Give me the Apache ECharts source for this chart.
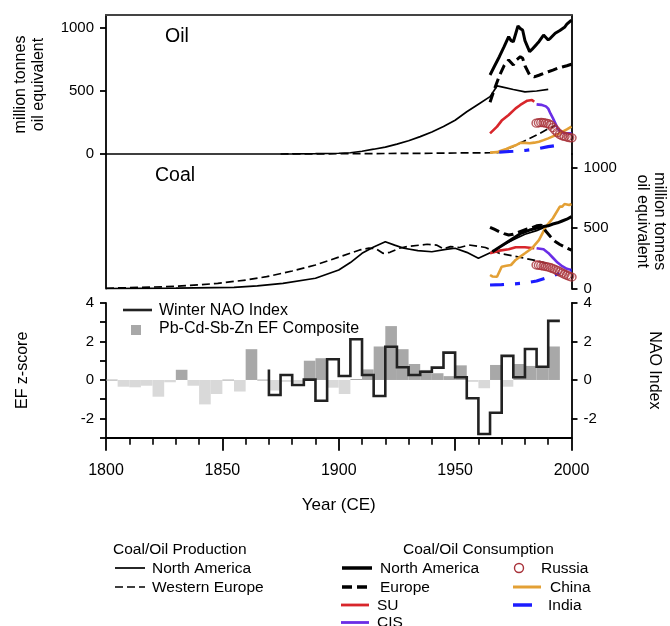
<!DOCTYPE html>
<html>
<head>
<meta charset="utf-8">
<script src="https://cdn.jsdelivr.net/npm/echarts@6/dist/echarts.min.js"></script>
<style>
  html, body { margin: 0; padding: 0; background: #fff; }
  #chart { width: 670px; height: 626px; }
</style>
</head>
<body>
<div id="chart"></div>
<script>
// ---- oil (million tonnes oil equivalent) ----
const naProdOilYears = [1800, 1860, 1880, 1890, 1900, 1905, 1910, 1915, 1920, 1925, 1930, 1935, 1940, 1945, 1950, 1955, 1960, 1965, 1968, 1970, 1975, 1980, 1985, 1990];
const naProdOil      = [0, 0, 1, 3, 6, 10, 22, 38, 55, 78, 105, 138, 175, 218, 268, 335, 395, 455, 540, 533, 512, 493, 500, 513];
const wEurProdOilYears = [1875, 1900, 1920, 1940, 1950, 1960, 1965, 1969, 1975, 1980, 1985, 1990, 1993];
const wEurProdOil      = [0, 2, 4, 6, 8, 9, 10, 12, 60, 105, 150, 200, 225];
const naConsOilYears = [1965, 1967, 1969, 1971, 1973, 1974, 1975, 1977, 1978, 1979, 1980, 1982, 1983, 1985, 1986, 1988, 1990, 1991, 1993, 1995, 1997, 1998, 2000];
const naConsOil      = [627, 700, 772, 850, 931, 900, 891, 1016, 995, 984, 900, 812, 830, 870, 891, 944, 905, 920, 958, 980, 1005, 1030, 1063];
const eurConsOilYears = [1965, 1967, 1969, 1971, 1973, 1975, 1976, 1978, 1979, 1980, 1982, 1984, 1986, 1988, 1990, 1992, 1994, 1996, 1998, 2000];
const eurConsOil      = [410, 520, 620, 700, 746, 706, 740, 772, 760, 700, 627, 612, 625, 640, 653, 665, 680, 690, 700, 712];
const suOilYears = [1965, 1968, 1970, 1973, 1976, 1978, 1981, 1983, 1984];
const suOil      = [164, 217, 265, 310, 362, 389, 423, 429, 415];
const cisOilYears = [1985, 1987, 1989, 1990, 1991, 1992, 1993, 1994, 1995, 1996, 1998, 2000];
const cisOil      = [394, 390, 378, 360, 320, 285, 245, 205, 180, 170, 165, 164];
const chinaOilYears = [1965, 1968, 1970, 1972, 1974, 1976, 1978, 1980, 1982, 1984, 1986, 1988, 1990, 1992, 1994, 1996, 1998, 2000];
const chinaOil      = [11, 15, 28, 40, 55, 69, 88, 88, 85, 90, 98, 110, 124, 140, 155, 175, 195, 217];
const indiaOilYears = [1969, 1975, 1980, 1985, 1990, 1995];
const indiaOil      = [15, 22, 28, 40, 58, 72];
const russiaYears = [1985, 1986, 1987, 1988, 1989, 1990, 1991, 1992, 1993, 1994, 1995, 1996, 1997, 1998, 1999, 2000];
const russiaOil   = [245, 248, 250, 248, 245, 240, 230, 210, 190, 170, 155, 145, 140, 135, 130, 128];

// ---- coal (million tonnes oil equivalent) ----
const naProdCoalYears = [1800, 1830, 1855, 1865, 1876, 1890, 1900, 1905, 1910, 1915, 1920, 1924, 1928, 1934, 1940, 1946, 1950, 1955, 1960, 1966, 1970, 1975, 1980, 1985, 1990];
const naProdCoal      = [0, 3, 10, 22, 43, 85, 154, 215, 292, 345, 388, 360, 334, 315, 305, 325, 334, 300, 251, 305, 355, 405, 450, 480, 520];
const wEurProdCoalYears = [1800, 1826, 1840, 1848, 1860, 1869, 1880, 1890, 1900, 1909, 1913, 1916, 1919, 1922, 1926, 1930, 1935, 1938, 1942, 1945, 1948, 1952, 1956, 1960, 1963, 1969, 1975, 1980, 1985, 1990];
const wEurProdCoal      = [2, 15, 30, 43, 70, 98, 145, 195, 260, 320, 335, 330, 292, 300, 334, 350, 360, 367, 360, 330, 347, 340, 361, 350, 340, 292, 270, 250, 231, 205];
const naConsCoalYears = [1966, 1968, 1970, 1972, 1974, 1976, 1978, 1980, 1982, 1984, 1986, 1988, 1990, 1992, 1994, 1996, 1998, 2000];
const naConsCoal      = [305, 330, 355, 380, 405, 430, 455, 470, 485, 495, 505, 515, 520, 535, 545, 560, 575, 596];
const eurConsCoalYears = [1965, 1967, 1969, 1971, 1973, 1975, 1977, 1979, 1981, 1983, 1985, 1987, 1989, 1991, 1993, 1995, 1997, 2000];
const eurConsCoal      = [508, 490, 471, 455, 444, 450, 465, 480, 495, 505, 520, 525, 475, 430, 390, 365, 345, 318];
const suCoalYears = [1965, 1969, 1973, 1976, 1980, 1984];
const suCoal      = [292, 314, 325, 342, 342, 334];
const cisCoalYears = [1985, 1988, 1990, 1992, 1994, 1996, 1998, 2000];
const cisCoal      = [334, 325, 295, 255, 215, 185, 163, 154];
const chinaCoalYears = [1965, 1966, 1968, 1970, 1972, 1974, 1976, 1978, 1980, 1983, 1986, 1989, 1992, 1995, 1996, 1997, 1999, 2000];
const chinaCoal      = [112, 100, 98, 181, 188, 195, 237, 265, 292, 334, 402, 513, 583, 679, 679, 701, 693, 701];
const indiaCoalYears = [1965, 1970, 1975, 1980, 1985, 1990, 1995, 2000];
const indiaCoal      = [29, 32, 38, 45, 62, 92, 126, 150];
const russiaCoal = [195, 193, 190, 186, 182, 178, 172, 165, 157, 148, 138, 128, 118, 110, 102, 95];

// ---- EF composite (5-year bins) and winter NAO ----
const efBin = 5;
const efStart = [1800, 1805, 1810, 1815, 1820, 1825, 1830, 1835, 1840, 1845, 1850, 1855, 1860, 1865, 1870, 1875, 1880, 1885, 1890, 1895,
                 1900, 1905, 1910, 1915, 1920, 1925, 1930, 1935, 1940, 1945, 1950, 1955, 1960, 1965, 1970, 1975, 1980, 1985, 1990];
const efValues = [0.02, -0.35, -0.38, -0.3, -0.87, -0.12, 0.53, -0.3, -1.27, -0.73, 0.02, -0.6, 1.6, 0.02, -0.55, -0.1, -0.15, 1.0, 1.13, -0.4,
                  -0.73, 0.05, 0.55, 1.74, 2.8, 1.6, 0.83, 0.52, 0.35, 0.2, 0.76, -0.1, -0.43, 0.78, -0.35, 0.83, 0.73, 0.7, 1.74];
const naoStart = [1870, 1875, 1880, 1885, 1890, 1895, 1900, 1905, 1910, 1915, 1920, 1925, 1930, 1935, 1940, 1945, 1950, 1955, 1960, 1965, 1970, 1975, 1980, 1985, 1990];
const naoValues = [-0.78, 0.26, -0.26, 0.02, -1.08, 1.08, 0.21, 2.12, 0.26, -0.83, 1.73, 0.66, 0.26, 0.43, 0.64, 1.42, 0.14, -0.95, -2.81, -1.7, 1.25, 0.14, 1.61, 0.69, 3.07];
const naoLead = 0.55;

const mtTicks = [0, 500, 1000];
const efTicks = [-3, -2, -1, 0, 1, 2, 3, 4];
const efLabels = [-2, 0, 2, 4];

const FONT = '"Liberation Sans", Arial, sans-serif';
const pairs = (xs, ys) => xs.map((x, i) => [x, ys[i]]);
const plain = v => String(v);

const chart = echarts.init(document.getElementById('chart'));

const C = {
    su: '#d8262b', cis: '#6a2ee6', russia: '#a8323a', china: '#e3a035', india: '#1c1cff'
};

function line(xi, yi, xs, ys, color, width, dash, z) {
    return {
        type: 'line', xAxisIndex: xi, yAxisIndex: yi,
        data: pairs(xs, ys), symbol: 'none', clip: false, z: z || 2,
        lineStyle: { color: color, width: width, type: dash || 'solid' },
        emphasis: { disabled: true }, silent: true
    };
}

function rings(xi, yi, xs, ys) {
    return {
        type: 'scatter', xAxisIndex: xi, yAxisIndex: yi,
        data: pairs(xs, ys), symbol: 'circle', symbolSize: [9, 8], clip: false, z: 6,
        itemStyle: { color: 'rgba(0,0,0,0)', borderColor: C.russia, borderWidth: 1.4 },
        silent: true
    };
}

const prodDash = [8, 4];
const consDash = [10, 5];
const indiaDash = [14, 11, 5, 11];

// one set of series per panel: [xAxisIndex, yAxisIndex]
function panel(xi, yi, d) {
    return [
        line(xi, yi, d.naProdY, d.naProd, '#000', 1.7),
        line(xi, yi, d.wEurProdY, d.wEurProd, '#000', 1.7, prodDash),
        line(xi, yi, d.suY, d.su, C.su, 2.6, null, 3),
        line(xi, yi, d.cisY, d.cis, C.cis, 2.6, null, 3),
        line(xi, yi, d.chinaY, d.china, C.china, 2.6, null, 3),
        line(xi, yi, d.indiaY, d.india, C.india, 3.2, indiaDash, 3),
        line(xi, yi, d.naConsY, d.naCons, '#000', 3, null, 4),
        line(xi, yi, d.eurConsY, d.eurCons, '#000', 3, consDash, 4),
        rings(xi, yi, russiaYears, d.russia)
    ];
}

const oilSeries = panel(0, 0, {
    naProdY: naProdOilYears, naProd: naProdOil, wEurProdY: wEurProdOilYears, wEurProd: wEurProdOil,
    naConsY: naConsOilYears, naCons: naConsOil, eurConsY: eurConsOilYears, eurCons: eurConsOil,
    suY: suOilYears, su: suOil, cisY: cisOilYears, cis: cisOil, chinaY: chinaOilYears, china: chinaOil,
    indiaY: indiaOilYears, india: indiaOil, russia: russiaOil
});
const coalSeries = panel(1, 3, {
    naProdY: naProdCoalYears, naProd: naProdCoal, wEurProdY: wEurProdCoalYears, wEurProd: wEurProdCoal,
    naConsY: naConsCoalYears, naCons: naConsCoal, eurConsY: eurConsCoalYears, eurCons: eurConsCoal,
    suY: suCoalYears, su: suCoal, cisY: cisCoalYears, cis: cisCoal, chinaY: chinaCoalYears, china: chinaCoal,
    indiaY: indiaCoalYears, india: indiaCoal, russia: russiaCoal
});

const naoPoints = [[naoStart[0], naoLead]]
    .concat(pairs(naoStart, naoValues))
    .concat([[naoStart[naoStart.length - 1] + efBin, naoValues[naoValues.length - 1]]]);

const efSeries = {
    type: 'custom', xAxisIndex: 2, yAxisIndex: 4, z: 1, silent: true,
    data: pairs(efStart, efValues),
    renderItem: function (params, api) {
        const x0 = api.value(0), v = api.value(1);
        const a = api.coord([x0, v]);
        const b = api.coord([x0 + efBin, 0]);
        const h = Math.max(Math.abs(b[1] - a[1]), 1);
        return {
            type: 'rect',
            shape: { x: a[0], y: Math.min(a[1], b[1]), width: b[0] - a[0], height: h },
            style: { fill: v > 0 ? '#a8a8a8' : '#d9d9d9' }
        };
    }
};

const naoSeries = {
    type: 'line', xAxisIndex: 2, yAxisIndex: 5, step: 'end', symbol: 'none', z: 4, silent: true,
    data: naoPoints,
    lineStyle: { color: '#222', width: 2.6, join: 'miter' }
};

const axisBlack = { color: '#000', width: 1.8 };
const labelStyle = { color: '#000', fontSize: 15, fontFamily: FONT, margin: 12, formatter: plain };
const nameStyle = { color: '#000', fontSize: 16, fontFamily: FONT, lineHeight: 17.5 };
const grids = [
    { left: 106, right: 98.5, top: 15, height: 139 },
    { left: 106, right: 98.5, top: 154, height: 134.5 },
    { left: 106, right: 98.5, top: 303, height: 134.7 }
].map(g => Object.assign(g, { containLabel: false, outerBoundsMode: 'none' }));

function frameY(grid, pos, max) {
    return {
        type: 'value', gridIndex: grid, position: pos, min: 0, max: max,
        axisLine: { show: true, onZero: false, lineStyle: axisBlack },
        axisTick: { show: false }, axisLabel: { show: false }, splitLine: { show: false }
    };
}

const option = {
    backgroundColor: '#fff',
    animation: false,
    textStyle: { fontFamily: FONT },
    grid: grids,
    xAxis: [
        {
            type: 'value', gridIndex: 0, min: 1800, max: 2000, position: 'top',
            axisLine: { show: true, onZero: false, lineStyle: { color: '#444', width: 2 } },
            axisTick: { show: false }, axisLabel: { show: false }, splitLine: { show: false }
        },
        { type: 'value', gridIndex: 1, min: 1800, max: 2000, show: false },
        {
            type: 'value', gridIndex: 2, min: 1800, max: 2000, interval: 50,
            axisLine: { show: true, onZero: false, lineStyle: axisBlack },
            axisTick: { show: true, length: 13, lineStyle: axisBlack },
            minorTick: { show: true, splitNumber: 5, length: 7, lineStyle: { color: '#000', width: 1.6 } },
            axisLabel: { color: '#000', fontSize: 16, fontFamily: FONT, margin: 25, formatter: plain },
            splitLine: { show: false }, minorSplitLine: { show: false },
            name: 'Year (CE)', nameLocation: 'middle', nameGap: 59, nameMoveOverlap: false,
            nameTextStyle: { color: '#000', fontSize: 17, fontFamily: FONT }
        }
    ],
    yAxis: [
        {
            type: 'value', gridIndex: 0, position: 'left', min: 0, max: 1103,
            axisLine: { show: true, onZero: false, lineStyle: axisBlack },
            axisTick: { show: true, length: 6, customValues: mtTicks, lineStyle: axisBlack },
            axisLabel: Object.assign({ customValues: mtTicks }, labelStyle),
            splitLine: { show: false },
            name: 'million tonnes\noil equivalent', nameLocation: 'middle', nameRotate: 90, nameGap: 59,
            nameMoveOverlap: false, nameTextStyle: nameStyle
        },
        frameY(0, 'right', 1103),
        frameY(1, 'left', 1116),
        {
            type: 'value', gridIndex: 1, position: 'right', min: 0, max: 1116,
            axisLine: { show: true, onZero: false, lineStyle: axisBlack },
            axisTick: { show: true, length: 6, customValues: mtTicks, lineStyle: axisBlack },
            axisLabel: Object.assign({ customValues: mtTicks }, labelStyle),
            splitLine: { show: false },
            name: 'million tonnes\noil equivalent', nameLocation: 'middle', nameRotate: -90, nameGap: 62,
            nameMoveOverlap: false, nameTextStyle: nameStyle
        },
        {
            type: 'value', gridIndex: 2, position: 'left', min: -3, max: 4,
            axisLine: { show: true, onZero: false, lineStyle: axisBlack },
            axisTick: { show: true, length: 6, customValues: efTicks, lineStyle: axisBlack },
            axisLabel: Object.assign({ customValues: efLabels }, labelStyle),
            splitLine: { show: false },
            name: 'EF z-score', nameLocation: 'middle', nameRotate: 90, nameGap: 75,
            nameMoveOverlap: false, nameTextStyle: nameStyle
        },
        {
            type: 'value', gridIndex: 2, position: 'right', min: -3, max: 4,
            axisLine: { show: true, onZero: false, lineStyle: axisBlack },
            axisTick: { show: true, length: 6, customValues: efLabels, lineStyle: axisBlack },
            axisLabel: Object.assign({ customValues: efLabels }, labelStyle),
            splitLine: { show: false },
            name: 'NAO Index', nameLocation: 'middle', nameRotate: -90, nameGap: 74,
            nameMoveOverlap: false, nameTextStyle: nameStyle
        }
    ],
    series: oilSeries.concat(coalSeries, [efSeries, naoSeries]),
    graphic: { elements: [] }
};

// panel captions and legend keys
const g = option.graphic.elements;
function txt(x, y, s, size) {
    g.push({ type: 'text', x: x, y: y, z: 10, silent: true,
        style: { text: s, fill: '#000', font: (size || 15.5) + 'px ' + FONT, verticalAlign: 'middle', align: 'left' } });
}
function key(x1, x2, y, color, width, dash) {
    g.push({ type: 'line', z: 10, silent: true, shape: { x1: x1, y1: y, x2: x2, y2: y },
        style: { stroke: color, lineWidth: width, lineDash: dash || null } });
}

txt(165, 37, 'Oil', 19.5);
txt(155, 176, 'Coal', 19.5);

key(123, 152, 310, '#222', 2.6);
txt(159, 311, 'Winter NAO Index', 16);
g.push({ type: 'rect', z: 10, silent: true, shape: { x: 131, y: 325, width: 10, height: 10 }, style: { fill: '#a8a8a8' } });
txt(159, 329, 'Pb-Cd-Sb-Zn EF Composite', 16);

txt(113, 550, 'Coal/Oil Production');
key(115, 145, 568, '#000', 1.7);
txt(152, 568.5, 'North America');
key(115, 145, 587, '#000', 1.7, prodDash);
txt(152, 587.5, 'Western Europe');

txt(403, 550, 'Coal/Oil Consumption');
key(342, 372, 568, '#000', 3.5);
txt(380, 568.5, 'North America');
key(342, 372, 587, '#000', 3.5, consDash);
txt(380, 587.5, 'Europe');
key(341, 369, 605, C.su, 2.8);
txt(377, 605.5, 'SU');
key(341, 369, 622.5, C.cis, 2.8);
txt(377, 623, 'CIS');
g.push({ type: 'circle', z: 10, silent: true, shape: { cx: 519, cy: 568, r: 4.5 },
    style: { fill: 'none', stroke: C.russia, lineWidth: 1.4 } });
txt(541, 568.5, 'Russia');
key(513, 541, 587, C.china, 3);
txt(550, 587.5, 'China');
key(513, 532, 605, C.india, 3.5);
txt(548, 605.5, 'India');

chart.setOption(option);
</script>
</body>
</html>
